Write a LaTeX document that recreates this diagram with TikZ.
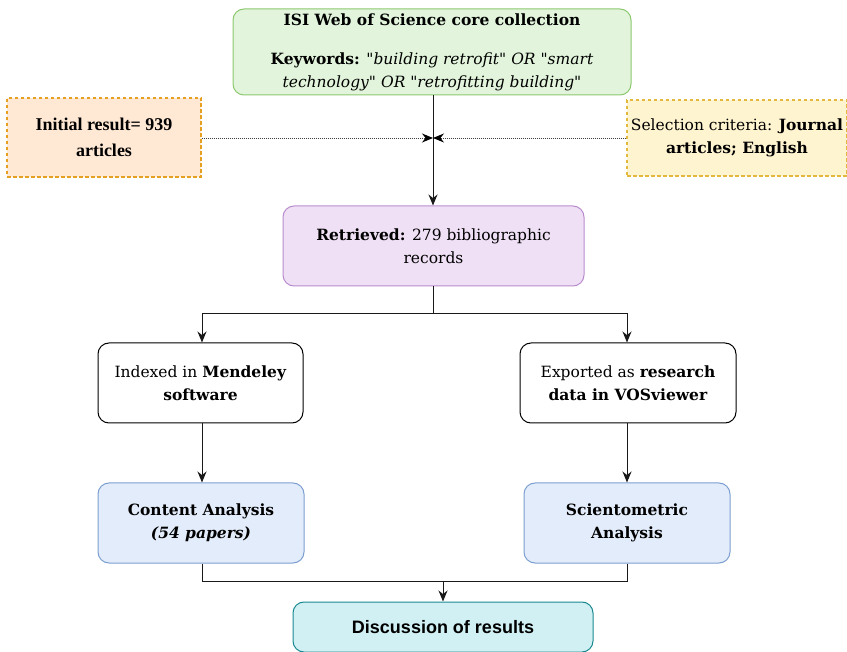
\documentclass[tikz,border=0pt]{standalone}
\usepackage{fontspec}
\newfontfamily\georgia{DejaVu Serif}
\newfontfamily\timesfont{Liberation Serif}
\newfontfamily\arialfont{Liberation Sans}
\usetikzlibrary{arrows.meta}
\definecolor{grfill}{RGB}{226,245,220}
\definecolor{grline}{RGB}{140,200,110}
\definecolor{orfill}{RGB}{255,233,213}
\definecolor{orline}{RGB}{228,160,30}
\definecolor{yefill}{RGB}{255,244,208}
\definecolor{yeline}{RGB}{228,184,60}
\definecolor{pufill}{RGB}{239,224,245}
\definecolor{puline}{RGB}{185,140,205}
\definecolor{blfill}{RGB}{227,236,250}
\definecolor{blline}{RGB}{124,159,208}
\definecolor{cyfill}{RGB}{208,240,244}
\definecolor{cyline}{RGB}{26,138,144}
\definecolor{conn}{RGB}{25,25,25}
\tikzset{
  boxbase/.style={rounded corners=11pt, line width=1pt, align=center, inner sep=2pt},
  greenbox/.style={boxbase, fill=grfill, draw=grline},
  purplebox/.style={boxbase, fill=pufill, draw=puline},
  whitebox/.style={boxbase, fill=white, draw=black},
  bluebox/.style={boxbase, fill=blfill, draw=blline},
  cyanbox/.style={boxbase, fill=cyfill, draw=cyline},
  dashbox/.style={line width=1.2pt, dash pattern=on 3.5pt off 2.5pt, align=center, inner sep=2pt},
  arr/.style={draw=conn, line width=1pt, -{Stealth[length=11pt,width=9pt]}},
  ln/.style={draw=conn, line width=1pt},
  dotarr/.style={draw=black!75, line width=0.9pt, dash pattern=on 1pt off 1pt, -{Stealth[length=11pt,width=9pt,black]}},
  txt/.style={font=\georgia\fontsize{15.5}{23}\selectfont}
}
\begin{document}
\begin{tikzpicture}[x=1pt,y=-1pt]
\useasboundingbox (0,0) rectangle (847,652);
% nodes
\node[greenbox, minimum width=398pt, minimum height=86pt, txt] (wos) at (432,52)
  {\textbf{ISI Web of Science core collection}\\[16pt]
   \textbf{Keywords:} \textit{"building retrofit" OR "smart}\\
   \textit{technology" OR "retrofitting building"}};
\node[dashbox, fill=orfill, draw=orline, minimum width=194pt, minimum height=79pt,
  font=\timesfont\fontsize{18}{26}\selectfont\bfseries] (init) at (104,137.5)
  {Initial result= 939\\articles};
\node[dashbox, fill=yefill, draw=yeline, minimum width=220pt, minimum height=76pt, txt] (sel) at (737,138)
  {Selection criteria: \textbf{Journal}\\\textbf{articles; English}};
\coordinate (meet) at (433,138);
\node[purplebox, minimum width=301pt, minimum height=80pt, txt] (ret) at (433.5,246)
  {\textbf{Retrieved:} 279 bibliographic\\records};
\node[whitebox, minimum width=205pt, minimum height=80pt, txt] (mend) at (200.5,383)
  {Indexed in \textbf{Mendeley}\\\textbf{software}};
\node[whitebox, minimum width=216pt, minimum height=80pt, txt] (vos) at (628,383)
  {Exported as \textbf{research}\\\textbf{data in VOSviewer}};
\node[bluebox, minimum width=206pt, minimum height=80pt, txt] (cont) at (201,523)
  {\textbf{Content Analysis}\\\textbf{\textit{(54 papers)}}};
\node[bluebox, minimum width=206pt, minimum height=80pt, txt] (scien) at (627,523)
  {\textbf{Scientometric}\\\textbf{Analysis}};
\node[cyanbox, minimum width=300pt, minimum height=50pt,
  font=\arialfont\fontsize{18}{20}\selectfont\bfseries] (disc) at (443,627)
  {Discussion of results};
% connectors
\draw[arr] (wos.south -| meet) -- (ret.north -| meet);
\draw[dotarr] (init.east |- meet) -- (meet);
\draw[dotarr] (sel.west |- meet) -- (meet);
\coordinate (split) at (433,314);
\draw[ln] (ret.south -| split) -- (split);
\draw[arr] (split) -| (mend.north -| 202,0);
\draw[arr] (split) -| (vos.north -| 627,0);
\draw[arr] (mend.south -| 202,0) -- (cont.north -| 202,0);
\draw[arr] (vos.south -| 627,0) -- (scien.north -| 627,0);
\coordinate (join) at (443,581);
\draw[ln] (cont.south -| 202,0) |- (join);
\draw[ln] (scien.south -| 627,0) |- (join);
\draw[arr] (join) -- (disc.north);
\end{tikzpicture}
\end{document}
